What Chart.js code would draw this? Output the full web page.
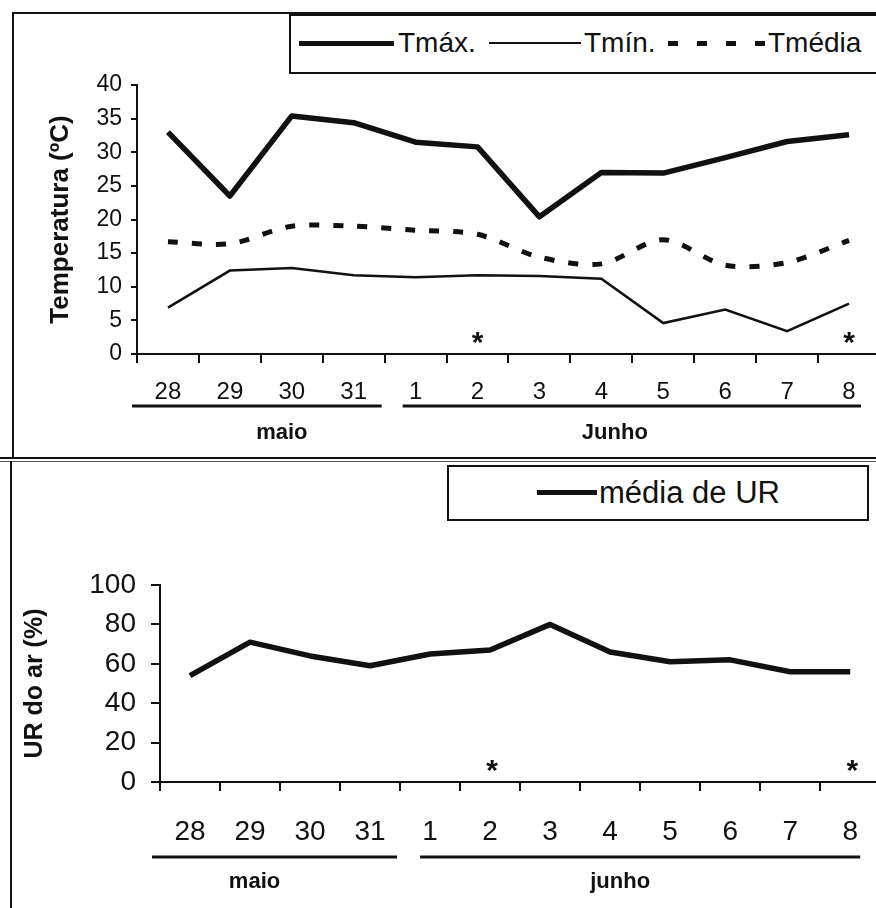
<!DOCTYPE html>
<html>
<head>
<meta charset="utf-8">
<script src="https://cdn.jsdelivr.net/npm/chart.js@4.4.0/dist/chart.umd.min.js"></script>
<style>
body{margin:0;width:876px;height:908px;overflow:hidden;background:#fff;position:relative;font-family:"Liberation Sans",Arial,sans-serif;color:#111;}
.ln{position:absolute;background:#111;}
.box{position:absolute;border:2px solid #111;background:#fff;}
.lbl{position:absolute;white-space:nowrap;line-height:1;}
.wrap{position:absolute;left:0;}
</style>
</head>
<body>

<div class="wrap" style="top:0;width:880px;height:457px"><canvas id="chartTemp" width="880" height="457"></canvas></div>
<div class="wrap" style="top:460px;width:882px;height:448px"><canvas id="chartUR" width="882" height="448"></canvas></div>

<!-- moldura -->
<div class="ln" style="left:12px;top:12px;width:2px;height:447px"></div>
<div class="ln" style="left:12px;top:12px;width:864px;height:2px"></div>
<div class="ln" style="left:0;top:457px;width:876px;height:2px"></div>
<div class="ln" style="left:0;top:461px;width:876px;height:1px;opacity:.7"></div>
<div class="ln" style="left:10px;top:461px;width:2px;height:447px"></div>

<!-- legenda temperatura -->
<div class="box" style="left:289px;top:14px;width:620px;height:56px"></div>
<div class="ln" style="left:299px;top:41px;width:95px;height:5px"></div>
<div class="lbl" style="left:398px;top:29px;font-size:28px">Tmáx.</div>
<div class="ln" style="left:489px;top:42px;width:92px;height:2px"></div>
<div class="lbl" style="left:584px;top:29px;font-size:28px">Tmín.</div>
<div class="ln" style="left:668px;top:41px;width:98px;height:5px;background:repeating-linear-gradient(to right,#111 0 10px,transparent 10px 29px)"></div>
<div class="lbl" style="left:768px;top:29px;font-size:28px">Tmédia</div>

<!-- legenda UR -->
<div class="box" style="left:447px;top:465px;width:418px;height:52px"></div>
<div class="ln" style="left:537px;top:490px;width:60px;height:5px"></div>
<div class="lbl" style="left:599px;top:477px;font-size:31px">média de UR</div>

<script>
const dias = ['28','29','30','31','1','2','3','4','5','6','7','8'];
const meses = ['maio','Junho'];
const mesesUR = ['maio','junho'];
const diasPorMes = [4, 8];
const marcados = ['2','8'];

const tMax = [33.0, 23.5, 35.4, 34.4, 31.5, 30.8, 20.4, 27.0, 26.9, 29.2, 31.6, 32.6];
const tMin = [6.9, 12.4, 12.8, 11.7, 11.4, 11.7, 11.6, 11.2, 4.6, 6.6, 3.4, 7.5];
const tMedia = [16.7, 16.4, 19.0, 19.0, 18.4, 17.8, 14.4, 13.4, 17.0, 13.2, 13.6, 16.9];
const urMedia = [54, 71, 64, 59, 65, 67, 80, 66, 61, 62, 56, 56];

const tempTicks = [0, 5, 10, 15, 20, 25, 30, 35, 40];
const urTicks = [0, 20, 40, 60, 80, 100];

const fam = '"Liberation Sans", Arial, sans-serif';
const preto = '#111';

// linhas de mes, rotulos e asteriscos abaixo do eixo x
const extras = {
  id: 'extras',
  afterDraw(chart, args, opts) {
    const ctx = chart.ctx;
    const x = chart.scales.x;
    const band = x.getPixelForTick(1) - x.getPixelForTick(0);
    const base = chart.chartArea.bottom;
    ctx.save();
    ctx.fillStyle = preto;
    ctx.strokeStyle = preto;
    ctx.textAlign = 'center';
    ctx.textBaseline = 'middle';
    let idx = 0;
    opts.nomes.forEach((nome, g) => {
      const n = diasPorMes[g];
      const a = x.getPixelForTick(idx) - band / 2 + opts.ins[g][0];
      const b = x.getPixelForTick(idx + n - 1) + band / 2 + opts.ins[g][1];
      ctx.lineWidth = 3;
      ctx.beginPath();
      ctx.moveTo(a, base + opts.linhaY);
      ctx.lineTo(b, base + opts.linhaY);
      ctx.stroke();
      ctx.font = 'bold 22px ' + fam;
      ctx.fillText(nome, (a + b) / 2 + opts.dx[g], base + opts.mesY);
      idx += n;
    });
    ctx.font = 'bold 30px ' + fam;
    ctx.textBaseline = 'alphabetic';
    marcados.forEach(d => {
      ctx.fillText('*', x.getPixelForValue(dias.indexOf(d)) + opts.astDx, base - 2);
    });
    ctx.restore();
  }
};

function eixos(ticksY, maxY, largY, altX, fonteX, fonteY, padX, padY, tickY, titulo, tituloPad, tituloFonte) {
  return {
    x: {
      offset: true,
      grid: {offset: true, drawOnChartArea: false, tickLength: 9, color: preto, lineWidth: 2},
      border: {color: preto, width: 2},
      ticks: {color: preto, font: {size: fonteX, family: fam}, padding: padX, maxRotation: 0, autoSkip: false},
      afterFit: s => { s.height = altX; }
    },
    y: {
      min: 0, max: maxY,
      afterBuildTicks: s => { s.ticks = ticksY.map(v => ({value: v})); },
      grid: {drawOnChartArea: false, tickLength: tickY, color: preto, lineWidth: 2},
      border: {color: preto, width: 2},
      ticks: {color: preto, font: {size: fonteY, family: fam}, padding: padY},
      title: {display: true, text: titulo, color: preto, font: {size: tituloFonte, weight: 'bold', family: fam}, padding: {top: tituloPad, bottom: 0}},
      afterFit: s => { s.width = largY; }
    }
  };
}

new Chart(document.getElementById('chartTemp'), {
  type: 'line',
  data: {
    labels: dias,
    datasets: [
      {label: 'Tmáx.', data: tMax, borderColor: preto, borderWidth: 5.5, pointRadius: 0, tension: 0, borderJoinStyle: 'round'},
      {label: 'Tmín.', data: tMin, borderColor: preto, borderWidth: 2.5, pointRadius: 0, tension: 0},
      {label: 'Tmédia', data: tMedia, borderColor: preto, borderWidth: 5, borderDash: [10, 14], pointRadius: 0, tension: 0.3}
    ]
  },
  options: {
    responsive: false,
    animation: false,
    layout: {padding: {top: 85, left: 0, right: 0, bottom: 0}},
    plugins: {
      legend: {display: false},
      tooltip: {enabled: false},
      extras: {nomes: meses, ins: [[-5, -3], [18, -19]], dx: [25, -17], linhaY: 52, mesY: 79, astDx: 0}
    },
    scales: eixos(tempTicks, 40, 137, 103, 24, 23, 15, 9, 6, 'Temperatura (ºC)', 45, 26)
  },
  plugins: [extras]
});

new Chart(document.getElementById('chartUR'), {
  type: 'line',
  data: {
    labels: dias,
    datasets: [
      {label: 'média de UR', data: urMedia, borderColor: preto, borderWidth: 5.5, pointRadius: 0, tension: 0, borderJoinStyle: 'round'}
    ]
  },
  options: {
    responsive: false,
    animation: false,
    layout: {padding: {top: 125, left: 0, right: 0, bottom: 0}},
    plugins: {
      legend: {display: false},
      tooltip: {enabled: false},
      extras: {nomes: mesesUR, ins: [[-8, -3], [20, -20]], dx: [-20, -20], linhaY: 75, mesY: 100, astDx: 2}
    },
    scales: eixos(urTicks, 100, 160, 126, 28, 28, 24, 15, 9, 'UR do ar (%)', 20, 25)
  },
  plugins: [extras]
});
</script>
</body>
</html>
